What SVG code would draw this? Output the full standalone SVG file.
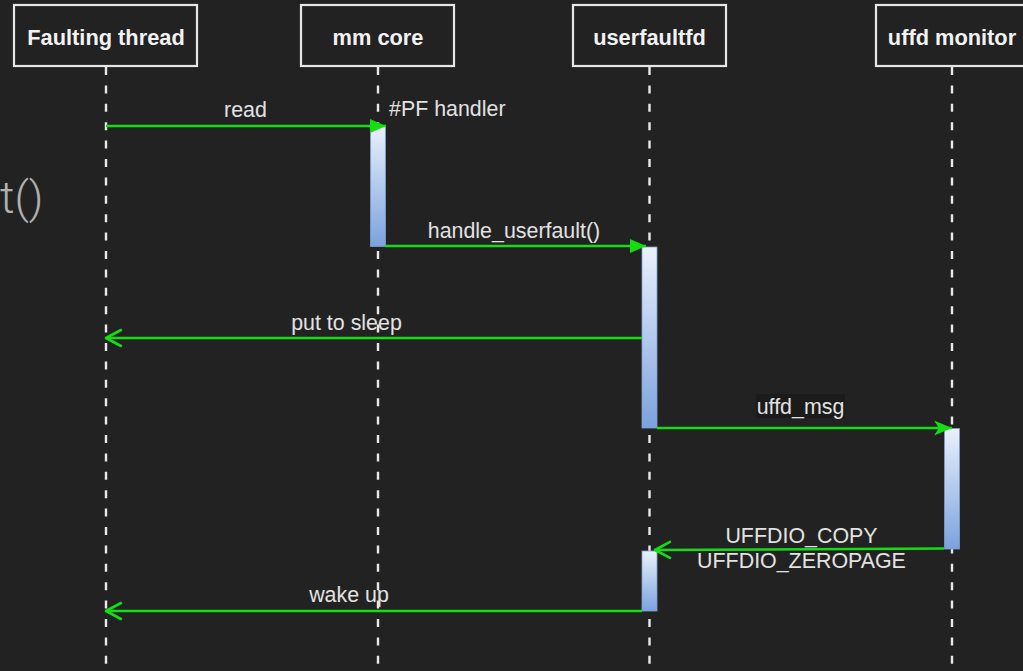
<svg xmlns="http://www.w3.org/2000/svg" width="1023" height="671" viewBox="0 0 1023 671">
  <defs>
    <linearGradient id="actGrad" x1="0" y1="0" x2="0" y2="1">
      <stop offset="0" stop-color="#eaf1fc"/>
      <stop offset="1" stop-color="#7ba2dd"/>
    </linearGradient>
    <marker id="headSolid" markerUnits="userSpaceOnUse" markerWidth="18" markerHeight="16" refX="16" refY="8" orient="auto">
      <path d="M0,1 L16,8 L0,15 Z" fill="#14dd14"/>
    </marker>
    <marker id="headNotched" markerUnits="userSpaceOnUse" markerWidth="20" markerHeight="18" refX="18" refY="9" orient="auto">
      <path d="M0,1.5 L18,9 L0,16.5 L5,9 Z" fill="#14dd14"/>
    </marker>
    <marker id="headOpen" markerUnits="userSpaceOnUse" markerWidth="20" markerHeight="20" refX="17" refY="10" orient="auto">
      <path d="M2,2 L17,10 L2,18" fill="none" stroke="#14dd14" stroke-width="2.6" stroke-linecap="round" stroke-linejoin="round"/>
    </marker>
    <style>
      .box { fill: #222222; stroke: #e6e6e6; stroke-width: 2.2; }
      .title { font-family: "Liberation Sans", Arial, sans-serif; font-weight: bold; font-size: 21.8px; fill: #f2f2f2; text-anchor: middle; }
      .life { stroke: #e8e8e8; stroke-width: 2.4; stroke-dasharray: 8 10.4; fill: none; }
      .act { fill: url(#actGrad); stroke: #7f9fcf; stroke-width: 0.8; }
      .msg { stroke: #14dd14; stroke-width: 2.6; fill: none; }
      .label { font-family: "Liberation Sans", Arial, sans-serif; font-size: 21.4px; fill: #e2e2e2; text-anchor: middle; }
    </style>
  </defs>

  <rect x="0" y="0" width="1023" height="671" fill="#222222"/>

  <!-- stray text at the left edge -->
  <text x="0" y="213" font-family="Roboto, 'Liberation Sans', sans-serif" font-weight="300" font-size="45" fill="#b0b0b0">t()</text>

  <!-- lifelines -->
  <g id="lifelines">
    <line class="life" x1="106" y1="67" x2="106" y2="671"/>
    <line class="life" x1="378" y1="67" x2="378" y2="671"/>
    <line class="life" x1="649.5" y1="67" x2="649.5" y2="671"/>
    <line class="life" x1="952" y1="67" x2="952" y2="671"/>
  </g>

  <!-- participants -->
  <g id="faulting-thread">
    <rect class="box" x="14" y="5" width="183" height="61"/>
    <text class="title" x="106" y="45">Faulting thread</text>
  </g>
  <g id="mm-core">
    <rect class="box" x="301" y="5" width="153" height="61"/>
    <text class="title" x="378" y="45">mm core</text>
  </g>
  <g id="userfaultfd">
    <rect class="box" x="573" y="5" width="153" height="61"/>
    <text class="title" x="649.5" y="45">userfaultfd</text>
  </g>
  <g id="uffd-monitor">
    <rect class="box" x="876" y="5" width="153" height="61"/>
    <text class="title" x="952" y="45">uffd monitor</text>
  </g>

  <!-- activation bars -->
  <g id="activations">
    <rect class="act" x="370.5" y="126" width="15" height="120.5"/>
    <rect class="act" x="642" y="247" width="15" height="181"/>
    <rect class="act" x="944.5" y="428.5" width="15" height="120.5"/>
    <rect class="act" x="642" y="551" width="15" height="60"/>
  </g>

  <!-- messages -->
  <g id="connectors">
    <line class="msg" x1="106" y1="126" x2="386" y2="126" marker-end="url(#headSolid)"/>
    <line class="msg" x1="385" y1="246" x2="646" y2="246" marker-end="url(#headSolid)"/>
    <line class="msg" x1="642" y1="338" x2="106" y2="338" marker-end="url(#headOpen)"/>
    <line class="msg" x1="657" y1="428" x2="952" y2="428" marker-end="url(#headNotched)"/>
    <line class="msg" x1="944" y1="548.5" x2="655" y2="550" marker-end="url(#headOpen)"/>
    <line class="msg" x1="642" y1="611" x2="106" y2="611" marker-end="url(#headOpen)"/>
  </g>

  <!-- message labels -->
  <g id="labels">
    <text class="label" x="245.5" y="117">read</text>
    <text class="label" x="389" y="116" style="text-anchor:start">#PF handler</text>
    <text class="label" x="514" y="237.5">handle_userfault()</text>
    <text class="label" x="346.5" y="330">put to sleep</text>
    <rect x="756" y="394" width="89" height="24" fill="#1b1b1b"/>
    <text class="label" x="800.5" y="413.5">uffd_msg</text>
    <text class="label" x="801.5" y="543">UFFDIO_COPY</text>
    <text class="label" x="801.5" y="568">UFFDIO_ZEROPAGE</text>
    <text class="label" x="349" y="602">wake up</text>
  </g>
</svg>
